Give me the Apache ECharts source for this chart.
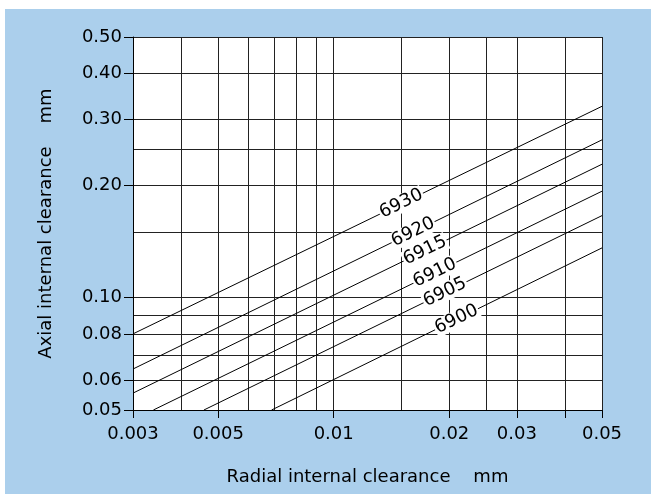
<!DOCTYPE html>
<html>
<head>
<meta charset="utf-8">
<script src="https://cdn.jsdelivr.net/npm/echarts@6/dist/echarts.min.js"></script>
<style>
  html, body { margin: 0; padding: 0; background: #fff; }
  #chart { position: absolute; left: 5px; top: 9px; width: 646px; height: 485px; background: #abcfec; }
</style>
</head>
<body>
<div id="chart"></div>
<script>
// bearing series, each one straight line on log-log paper (start / end point)
const seriesNames = ['6930', '6920', '6915', '6910', '6905', '6900'];
const startX = [0.003, 0.003, 0.003, 0.00339, 0.00459, 0.00689];
const startY = [0.080, 0.0644, 0.0555, 0.05, 0.05, 0.05];
const endX = [0.05, 0.05, 0.05, 0.05, 0.05, 0.05];
const endY = [0.326, 0.265, 0.228, 0.193, 0.166, 0.136];
// where the number sits along each line (radial clearance)
const labelX = [0.015, 0.0161, 0.0173, 0.01835, 0.0195, 0.0209];

const xGridValues = [0.003, 0.004, 0.005, 0.006, 0.007, 0.008, 0.009, 0.01, 0.015, 0.02, 0.025, 0.03, 0.04, 0.05];
const yGridValues = [0.05, 0.06, 0.07, 0.08, 0.09, 0.10, 0.15, 0.20, 0.25, 0.30, 0.40, 0.50];
const xTickValues = [0.003, 0.005, 0.01, 0.02, 0.03, 0.04, 0.05];
const xLabelValues = [0.003, 0.005, 0.01, 0.02, 0.03, 0.05];
const yLabelValues = [0.05, 0.06, 0.08, 0.10, 0.20, 0.30, 0.40, 0.50];

const fontName = '"DejaVu Sans", sans-serif';
const textSize = 18;

let chart = echarts.init(document.getElementById('chart'));

// y on the line at x, interpolated in log space
function yOnLine(i, x) {
    let t = (Math.log(x) - Math.log(startX[i])) / (Math.log(endX[i]) - Math.log(startX[i]));
    return Math.exp(Math.log(startY[i]) + t * (Math.log(endY[i]) - Math.log(startY[i])));
}

let series = [];
seriesNames.forEach((name, i) => {
    series.push({
        name: name,
        type: 'line',
        z: 3,
        symbol: 'none',
        lineStyle: { color: '#000', width: 1 },
        data: [[startX[i], startY[i]], [endX[i], endY[i]]],
        markPoint: {
            symbol: 'circle',
            symbolSize: 0,
            animation: false,
            data: [{ coord: [labelX[i], yOnLine(i, labelX[i])], value: name }],
            label: {
                show: true,
                position: 'inside',
                formatter: name,
                rotate: 26,
                color: '#000',
                fontSize: textSize,
                fontFamily: fontName,
                backgroundColor: '#fff',
                padding: [0, 1]
            }
        }
    });
});

// second pair of axes only draws the grid lines
function gridAxis(min, max, values) {
    return {
        type: 'log',
        min: min,
        max: max,
        axisLine: { show: false },
        axisTick: { show: false, customValues: values },
        axisLabel: { show: false, customValues: values },
        splitLine: { show: true, lineStyle: { color: '#222', width: 1 } },
        minorSplitLine: { show: false }
    };
}

const option = {
    animation: false,
    grid: {
        left: 128, right: 49, top: 28, bottom: 84,
        show: true, backgroundColor: '#fff', borderWidth: 0
    },
    xAxis: [{
        type: 'log',
        min: 0.003,
        max: 0.05,
        name: 'Radial internal clearance    mm',
        nameLocation: 'middle',
        nameGap: 58,
        nameTextStyle: { color: '#000', fontSize: textSize, fontFamily: fontName },
        axisLine: { lineStyle: { color: '#000', width: 1 } },
        axisTick: { show: true, length: 8, customValues: xTickValues, lineStyle: { color: '#000' } },
        axisLabel: {
            customValues: xLabelValues,
            color: '#000', fontSize: textSize, fontFamily: fontName, margin: 15,
            formatter: v => String(v)
        },
        splitLine: { show: false },
        minorSplitLine: { show: false }
    }, gridAxis(0.003, 0.05, xGridValues)],
    yAxis: [{
        type: 'log',
        min: 0.05,
        max: 0.5,
        name: 'Axial internal clearance    mm',
        nameLocation: 'middle',
        nameGap: 78,
        nameTextStyle: { color: '#000', fontSize: textSize, fontFamily: fontName },
        axisLine: { lineStyle: { color: '#000', width: 1 } },
        axisTick: { show: true, length: 9, customValues: yLabelValues, lineStyle: { color: '#000' } },
        axisLabel: {
            customValues: yLabelValues,
            color: '#000', fontSize: textSize, fontFamily: fontName, margin: 11,
            formatter: v => Number(v).toFixed(2)
        },
        splitLine: { show: false },
        minorSplitLine: { show: false }
    }, gridAxis(0.05, 0.5, yGridValues)],
    series: series
};

chart.setOption(option);
</script>
</body>
</html>
